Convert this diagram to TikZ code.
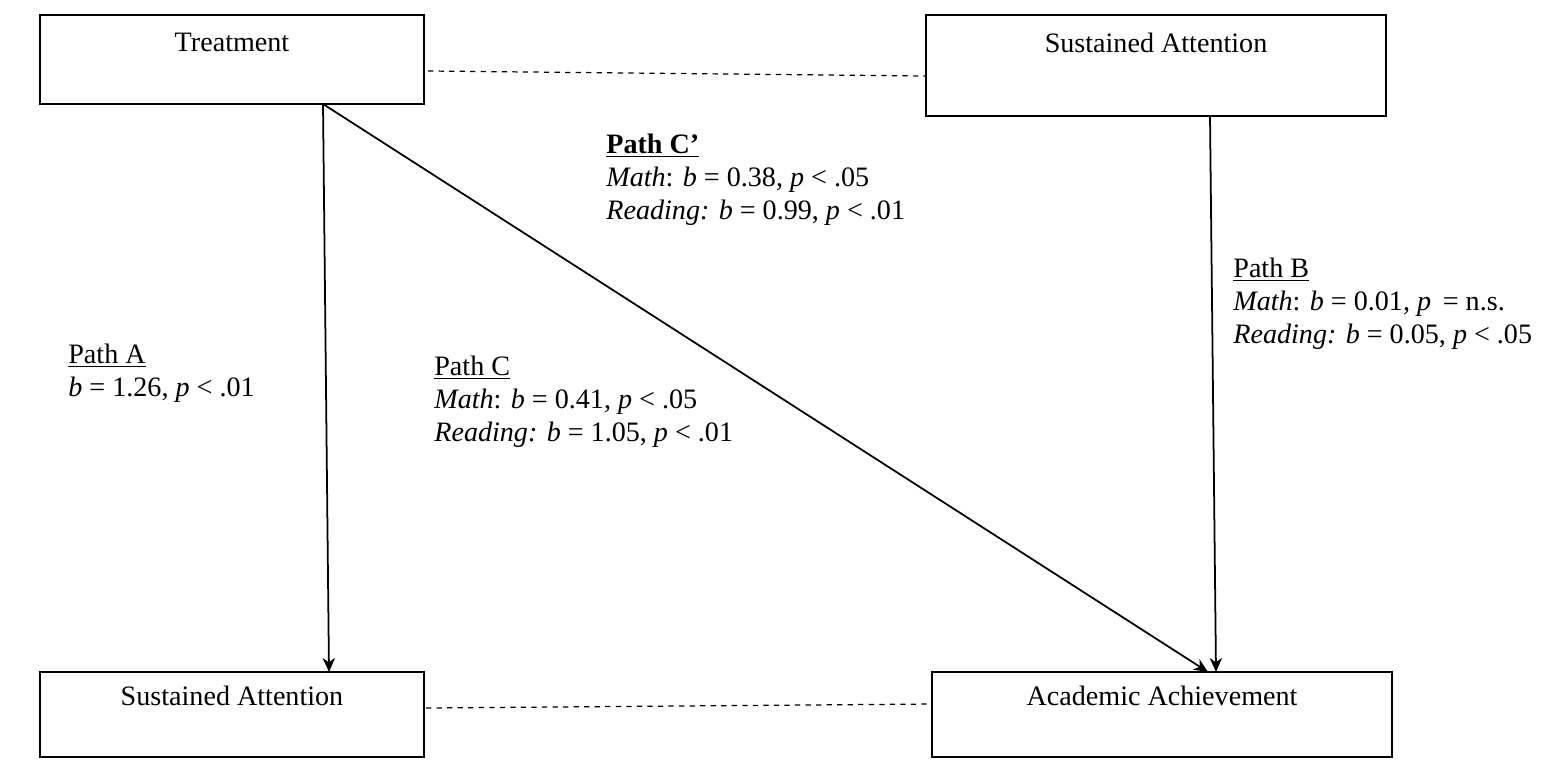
\documentclass[tikz,border=0pt]{standalone}
\usepackage{fontspec}
\usetikzlibrary{arrows.meta}
\setmainfont{Liberation Serif}
\begin{document}
\begin{tikzpicture}[x=0.02cm,y=-0.02cm,
 box/.style={draw,line width=0.9pt},
 lbl/.style={anchor=north west,align=left,inner sep=0pt,font=\fontsize{16}{18.7}\selectfont},
 btxt/.style={anchor=north,inner sep=0pt,font=\fontsize{16}{18.7}\selectfont},
 arr/.style={-{Stealth[length=8pt,width=7pt,inset=2.5pt]},line width=1pt},
 dsh/.style={dashed,line width=0.7pt}]
\useasboundingbox (0,0) rectangle (1550,767);
\draw[box] (40,15) rectangle (424,104);
\draw[box] (926,15) rectangle (1386,116);
\draw[box] (40,672) rectangle (424,757);
\draw[box] (932,672) rectangle (1392,757);
\node[btxt] (t) at (232,33) {Treatment};
\node[btxt] (s1) at (1156,33) {Sustained Attention};
\node[btxt] (s2) at (232,686) {Sustained Attention};
\node[btxt] (a) at (1162,686) {Academic Achievement};
\coordinate (d1a) at (428,71); \coordinate (d1b) at (926,76);
\coordinate (d2a) at (426,708); \coordinate (d2b) at (932,704);
\draw[dsh] (d1a) -- (d1b);
\draw[dsh] (d2a) -- (d2b);
\coordinate (o) at (323,104);
\coordinate (e1) at (329,672);
\coordinate (e2) at (1208,672);
\coordinate (o3) at (1210,116);
\coordinate (e3) at (1216,672);
\draw[arr] (o) -- (e1);
\draw[arr] (o) -- (e2);
\draw[arr] (o3) -- (e3);
\node[lbl] (pc2) at (606,134) {\textbf{\underline{Path C'}}\\ \textit{Math}: \textit{b} = 0.38, \textit{p} < .05\\ \textit{Reading:} \textit{b} = 0.99, \textit{p} < .01};
\node[lbl] (pb) at (1233,258) {\underline{Path B}\\ \textit{Math}: \textit{b} = 0.01, \textit{p}\, = n.s.\\ \textit{Reading:} \textit{b} = 0.05, \textit{p} < .05};
\node[lbl] (pa) at (68,344) {\underline{Path A}\\ \textit{b} = 1.26, \textit{p} < .01};
\node[lbl] (pc) at (434,356) {\underline{Path C}\\ \textit{Math}: \textit{b} = 0.41, \textit{p} < .05\\ \textit{Reading:} \textit{b} = 1.05, \textit{p} < .01};
\end{tikzpicture}
\end{document}
